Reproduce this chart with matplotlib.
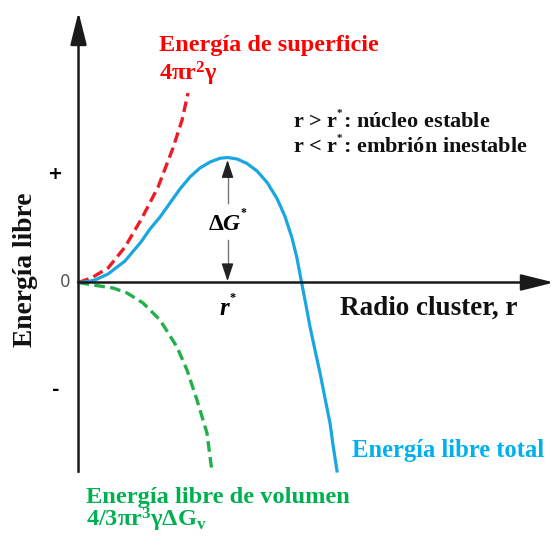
import matplotlib.pyplot as plt

# curves, r in units of r*, G in units of dG*
r_total = [0, 0.064, 0.111, 0.198, 0.312, 0.419, 0.480, 0.547, 0.614, 0.681, 0.748,
           0.815, 0.883, 0.950, 1.0, 1.064, 1.131, 1.198, 1.266, 1.332, 1.386, 1.433,
           1.466, 1.497, 1.520, 1.554, 1.587, 1.621, 1.654, 1.688, 1.708, 1.735]
g_total = [0, 0.008, 0.020, 0.068, 0.172, 0.324, 0.428, 0.524, 0.636, 0.748, 0.844,
           0.916, 0.964, 0.994, 1.0, 0.988, 0.952, 0.892, 0.800, 0.672, 0.528, 0.356,
           0.196, 0.0, -0.140, -0.356, -0.540, -0.724, -0.924, -1.124, -1.300, -1.508]

r_surface = [0, 0.089, 0.200, 0.312, 0.426, 0.534, 0.634, 0.695, 0.735]
g_surface = [0, 0.038, 0.118, 0.284, 0.516, 0.764, 1.076, 1.300, 1.516]

r_volume = [0, 0.097, 0.232, 0.326, 0.433, 0.547, 0.661, 0.728, 0.795, 0.862, 0.896]
g_volume = [0, -0.020, -0.044, -0.084, -0.164, -0.300, -0.516, -0.700, -0.940, -1.204, -1.516]

r_star = 1.0
dg_star = 1.0

W, H = 555, 536
SERIF = 'Liberation Serif'

plt.rcParams['mathtext.fontset'] = 'custom'
plt.rcParams['mathtext.rm'] = 'Liberation Serif:bold'
plt.rcParams['mathtext.bf'] = 'Liberation Serif:bold'
plt.rcParams['mathtext.it'] = 'Liberation Serif:italic:bold'

STAR = '$^{{}^{*}}$'


def px(x, y):
    return x / W, 1 - y / H


def main():
    fig = plt.figure(figsize=(W / 100, H / 100), dpi=100)
    ax = fig.add_axes([0, 0, 1, 1])
    ax.set_xlim(-0.527, 3.198)
    ax.set_ylim(-2.028, 2.26)
    ax.axis('off')

    # axes with arrows
    axis_arrow = dict(arrowstyle='-|>,head_length=1.0,head_width=0.25',
                      lw=1.8, color='#1a1a1a', mutation_scale=20,
                      shrinkA=0, shrinkB=0)
    ax.annotate('', xy=(0, 2.164), xytext=(0, -1.516), arrowprops=axis_arrow)
    ax.annotate('', xy=(3.191, 0), xytext=(0, 0), arrowprops=axis_arrow)

    ax.plot(r_surface, g_surface, color='#ee1c25', lw=2.4, ls=(0, (3.2, 1.6)))
    ax.plot(r_volume, g_volume, color='#22b04b', lw=2.4, ls=(0, (3.2, 1.6)))
    ax.plot(r_total, g_total, color='#1aa7e1', lw=2.3, solid_joinstyle='round')

    # dG* double arrow with a gap for the label
    ax.plot([r_star, r_star], [dg_star * 0.64, dg_star * 0.9], color='#777777', lw=1.0)
    ax.plot([r_star, r_star], [0.1, dg_star * 0.34], color='#777777', lw=1.0)
    arrow = dict(arrowstyle='-|>,head_length=0.9,head_width=0.3', lw=1.0,
                 color='#222222', mutation_scale=12, shrinkA=0, shrinkB=0)
    ax.annotate('', xy=(r_star, dg_star * 0.98), xytext=(r_star, dg_star * 0.85),
                arrowprops=arrow)
    ax.annotate('', xy=(r_star, 0.01), xytext=(r_star, 0.14), arrowprops=arrow)

    bold = dict(family=SERIF, weight='bold')
    fig.text(*px(228, 222), r'$\mathit{\Delta G}{}^{{}^{*}}$', ha='center', va='center',
             fontsize=17)
    fig.text(*px(228, 308), r'$\mathit{r}{}^{{}^{*}}$', ha='center', va='center',
             fontsize=18)

    fig.text(*px(159, 45), 'Energía de superficie', color='#ff0000', fontsize=17.5,
             va='center', **bold)
    fig.text(*px(159, 80), '4πr$^{2}$γ', color='#ff0000', fontsize=17.5,
             va='baseline', **bold)
    fig.text(*px(293, 122), 'r > r' + STAR + ': núcleo estable', color='#111111',
             fontsize=16, va='center', **bold)
    fig.text(*px(293, 147), 'r < r' + STAR + ': embrión inestable', color='#111111',
             fontsize=16, va='center', **bold)
    fig.text(*px(340, 308), 'Radio cluster, r', color='#111111', fontsize=19.5,
             va='center', **bold)
    fig.text(*px(352, 450), 'Energía libre total', color='#00b0f0', fontsize=17.7,
             va='center', **bold)
    fig.text(*px(86, 497), 'Energía libre de volumen', color='#00b050', fontsize=17.6,
             va='center', **bold)
    fig.text(*px(86, 526), '4/3πr$^{3}$γΔG$_{\\mathrm{v}}$', color='#00b050',
             fontsize=17.6, va='baseline', **bold)
    fig.text(*px(26, 270), 'Energía libre', color='#111111', fontsize=19.8, rotation=90,
             ha='center', va='center', **bold)

    fig.text(*px(55, 174), '+', fontsize=13, ha='center', va='center', weight='bold')
    fig.text(*px(65, 282), '0', fontsize=12, ha='center', va='center', color='#555555')
    fig.text(*px(56, 390), '-', fontsize=13, ha='center', va='center', weight='bold')

    fig.savefig('out.png', dpi=100)


if __name__ == '__main__':
    main()
